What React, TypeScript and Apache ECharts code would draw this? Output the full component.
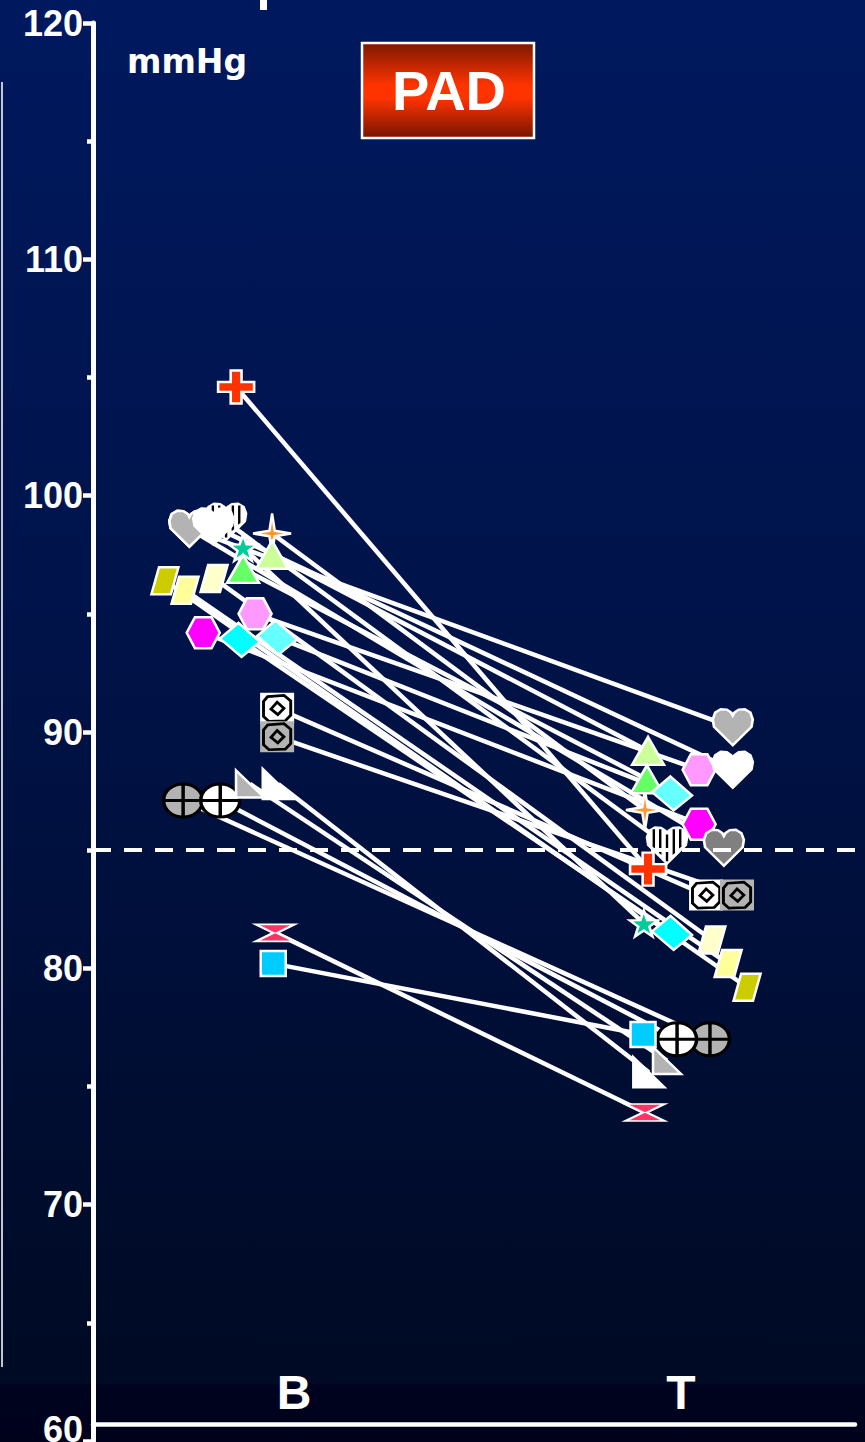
import React, { useEffect, useRef } from 'react';
import * as echarts from 'echarts';

// Two measurement occasions on the x axis
const categories = ['B', 'T'];

// Diastolic pressure (mmHg) per subject at B and at T
const baseline = [104.6, 98.6, 98.7, 98.9, 98.6, 98.4, 97.8, 97.5, 96.9, 96.4, 96.0, 96.5, 95.0, 94.2, 93.9, 94.0, 91.0, 89.8, 87.1, 87.1, 87.8, 87.8, 81.5, 80.2];
const treated = [84.2, 90.2, 88.4, 85.2, 85.1, 86.7, 81.9, 89.2, 88.0, 79.2, 80.2, 81.2, 88.4, 86.1, 81.5, 87.4, 83.1, 83.1, 77.0, 77.0, 76.1, 75.6, 73.9, 77.2];

// Horizontal spread of each subject's marker around its category
const baselineJitter = [-0.150, -0.271, -0.209, -0.176, -0.271, -0.057, -0.132, -0.057, -0.132, -0.334, -0.282, -0.207, -0.101, -0.235, -0.140, -0.044, -0.044, -0.044, -0.287, -0.191, -0.114, -0.041, -0.049, -0.054];
const treatedJitter = [-0.085, 0.134, 0.134, -0.036, 0.111, -0.093, -0.096, -0.085, -0.088, 0.171, 0.122, 0.080, 0.047, 0.047, -0.023, -0.023, 0.065, 0.145, 0.075, -0.010, -0.036, -0.083, -0.093, -0.098];

// Reference threshold
const threshold = 85;

// Marker shapes
const HEART = 'path://M50,100 L3,50 L0,30 L6,12 L20,3 L35,4 L46,12 L50,20 L54,12 L65,4 L80,3 L94,12 L100,30 L97,50 Z';
const HEART_STRIPES = 'path://M0,3 L0,3 M100,100 L100,100 M14,8 L20,8 L20,60 L14,55 Z M30,8 L36,8 L36,77 L30,72 Z M47,22 L53,22 L53,94 L47,94 Z M64,8 L70,8 L70,72 L64,77 Z M80,8 L86,8 L86,55 L80,60 Z';
const CROSS = 'path://M35,0 L65,0 L65,35 L100,35 L100,65 L65,65 L65,100 L35,100 L35,65 L0,65 L0,35 L35,35 Z';
const SPARKLE = 'path://M50,0 L57,43 L100,50 L57,57 L50,100 L43,57 L0,50 L43,43 Z';
const STAR = 'path://M50,0 L61.76,33.82 L97.55,34.55 L69.02,56.18 L79.39,90.45 L50,70 L20.61,90.45 L30.98,56.18 L2.45,34.55 L38.24,33.82 Z';
const PARALLELOGRAM = 'path://M28,0 L100,0 L72,100 L0,100 Z';
const HEXAGON = 'path://M25,0 L75,0 L100,50 L75,100 L25,100 L0,50 Z';
const RHOMBUS = 'path://M46,0 L100,56 L54,100 L0,46 Z';
const BOX_RING = 'path://M0,0 L0,0 M100,100 L100,100 M22,12 L70,8 L90,26 L90,72 L74,90 L26,92 L10,76 L10,28 Z M50,30 L70,50 L52,70 L32,52 Z';
const SPHERE = 'path://M0,50 C0,22 22,0 50,0 C78,0 100,22 100,50 C100,78 78,100 50,100 C22,100 0,78 0,50 Z M50,0 L50,100 M0,50 L100,50';
const RIGHT_TRIANGLE = 'path://M0,0 L0,100 L100,100 Z';
const BOWTIE = 'path://M0,0 L100,0 L55,50 L100,100 L0,100 L45,50 Z';

type Layer = { symbol: string; size: number[]; color: string; borderColor?: string; borderWidth?: number };
type Marker = { layers: Layer[] };

const W = '#ffffff';
const edge = (symbol: string, size: number[], color: string): Layer => ({ symbol, size, color, borderColor: W, borderWidth: 2.5 });

// One marker style per subject (same order as the value arrays)
const markers: Marker[] = [
  { layers: [edge(CROSS, [36, 33], '#ff3300')] },
  { layers: [edge(HEART, [40, 36], '#b3b3b3')] },
  { layers: [edge(HEART, [40, 36], '#ffffff')] },
  { layers: [edge(HEART, [40, 36], '#ffffff'), { symbol: HEART_STRIPES, size: [40, 36], color: '#000000' }] },
  { layers: [edge(HEART, [40, 36], '#808080')] },
  { layers: [edge(SPARKLE, [38, 40], '#ff9933')] },
  { layers: [edge(STAR, [28, 26], '#00cc99')] },
  { layers: [edge('triangle', [32, 28], '#ccff99')] },
  { layers: [edge('triangle', [32, 28], '#66ff66')] },
  { layers: [edge(PARALLELOGRAM, [27, 27], '#cccc00')] },
  { layers: [edge(PARALLELOGRAM, [27, 27], '#ffff99')] },
  { layers: [edge(PARALLELOGRAM, [27, 27], '#ffffcc')] },
  { layers: [edge(HEXAGON, [33, 31], '#ff99ff')] },
  { layers: [edge(HEXAGON, [33, 31], '#ff00ff')] },
  { layers: [edge(RHOMBUS, [40, 34], '#00ffff')] },
  { layers: [edge(RHOMBUS, [40, 34], '#66ffff')] },
  { layers: [{ symbol: 'rect', size: [34, 31], color: '#ffffff' }, { symbol: BOX_RING, size: [34, 31], color: 'transparent', borderColor: '#000', borderWidth: 2.8 }] },
  { layers: [{ symbol: 'rect', size: [34, 31], color: '#b3b3b3' }, { symbol: BOX_RING, size: [34, 31], color: 'transparent', borderColor: '#000', borderWidth: 2.8 }] },
  { layers: [{ symbol: SPHERE, size: [39, 33], color: '#b3b3b3', borderColor: '#000', borderWidth: 3.2 }] },
  { layers: [{ symbol: SPHERE, size: [39, 33], color: '#ffffff', borderColor: '#000', borderWidth: 3.2 }] },
  { layers: [edge(RIGHT_TRIANGLE, [28, 27], '#b3b3b3')] },
  { layers: [edge(RIGHT_TRIANGLE, [31, 30], '#ffffff')] },
  { layers: [edge(BOWTIE, [39, 17], '#ff3366')] },
  { layers: [edge('rect', [25, 25], '#00ccff')] },
];

// Stacking order of the markers (later ones sit on top)
const drawOrder = [9, 10, 11, 12, 13, 4, 1, 3, 2, 5, 6, 7, 8, 14, 15, 16, 17, 18, 19, 21, 20, 22, 23, 0];

const FONT = '"Liberation Sans", Arial, sans-serif';

function subjectPoints(i: number) {
  return [
    [1 + baselineJitter[i], baseline[i]],
    [2 + treatedJitter[i], treated[i]],
  ];
}

const tickStyle = { color: '#ffffff', fontSize: 36, fontWeight: 'bold', fontFamily: FONT };

function buildOption(): echarts.EChartsOption {
  const series: any[] = [];

  baseline.forEach((_, i) => {
    const s: any = {
      type: 'line',
      data: subjectPoints(i),
      symbol: 'none',
      silent: true,
      z: 2,
      lineStyle: { color: '#ffffff', width: 4.5 },
    };
    if (i === 0) {
      s.markLine = {
        silent: true,
        symbol: ['none', 'none'],
        label: { show: false },
        lineStyle: { color: '#ffffff', width: 4, type: [18, 13] },
        data: [{ yAxis: threshold }],
      };
    }
    series.push(s);
  });

  drawOrder.forEach((i) => {
    markers[i].layers.forEach((layer) => {
      series.push({
        type: 'scatter',
        data: subjectPoints(i),
        symbol: layer.symbol,
        symbolSize: layer.size,
        silent: true,
        z: 3,
        itemStyle: {
          color: layer.color,
          borderColor: layer.borderColor ?? 'transparent',
          borderWidth: layer.borderWidth ?? 0,
          opacity: 1,
        },
      });
    });
  });

  return {
    animation: false,
    backgroundColor: 'transparent',
    grid: { left: 93, right: 10, top: 23, bottom: 1, containLabel: false, outerBoundsMode: 'none' } as any,
    xAxis: {
      type: 'value',
      min: 0.48,
      max: 2.45,
      offset: -17,
      splitLine: { show: false },
      axisTick: { show: false },
      axisLine: { show: true, onZero: false, lineStyle: { color: '#ffffff', width: 4.5 } },
      axisLabel: {
        inside: true,
        margin: 8,
        customValues: [1, 2],
        color: '#ffffff',
        fontSize: 48,
        fontWeight: 'bold',
        fontFamily: FONT,
        formatter: (v: number) => {
          const k = Math.round(v);
          return Math.abs(v - k) < 1e-6 && k >= 1 && k <= categories.length ? categories[k - 1] : '';
        },
      },
    } as any,
    yAxis: {
      type: 'value',
      min: 60,
      max: 120,
      interval: 10,
      splitLine: { show: false },
      axisLine: { show: true, onZero: false, lineStyle: { color: '#ffffff', width: 5 } },
      axisTick: { show: true, length: 10, lineStyle: { color: '#ffffff', width: 4.5 } },
      minorTick: { show: true, splitNumber: 2, length: 6, lineStyle: { color: '#ffffff', width: 4.5 } },
      axisLabel: {
        ...tickStyle,
        margin: 10,
        // the lowest label sits on the x axis line, so it is lifted a little
        formatter: (v: number) => (v === 60 ? '{low|60}' : String(v)),
        rich: { low: { ...tickStyle, padding: [0, 0, 24, 0] } },
      },
    } as any,
    graphic: [
      { type: 'line', silent: true, shape: { x1: 2, y1: 82, x2: 2, y2: 1367 }, style: { stroke: '#c4c6d2', lineWidth: 2 } },
      { type: 'rect', silent: true, shape: { x: 260, y: 0, width: 7, height: 10 }, style: { fill: '#ffffff' } },
      {
        type: 'text',
        silent: true,
        x: 127,
        y: 61,
        style: { text: 'mmHg', fill: '#ffffff', fontSize: 33, fontWeight: 'bold', fontFamily: '"DejaVu Sans", sans-serif', textAlign: 'left', textVerticalAlign: 'middle' },
      },
      {
        type: 'group',
        silent: true,
        children: [
          {
            type: 'rect',
            shape: { x: 362, y: 43, width: 172, height: 95 },
            style: {
              fill: new echarts.graphic.LinearGradient(0, 0, 0, 1, [
                { offset: 0, color: '#7e1800' },
                { offset: 0.45, color: '#ff3300' },
                { offset: 0.58, color: '#ff3300' },
                { offset: 1, color: '#761400' },
              ]),
              stroke: '#ffffff',
              lineWidth: 2.5,
            },
          },
          {
            type: 'text',
            x: 449,
            y: 90,
            style: { text: 'PAD', fill: '#ffffff', fontSize: 56, fontWeight: 'bold', fontFamily: FONT, textAlign: 'center', textVerticalAlign: 'middle' },
          },
        ],
      },
    ],
    series,
  } as any;
}

export default function App() {
  const ref = useRef<HTMLDivElement>(null);

  useEffect(() => {
    document.body.style.margin = '0';
    const chart = echarts.init(ref.current!, null, { renderer: 'svg' });
    chart.setOption(buildOption());
    return () => chart.dispose();
  }, []);

  return (
    <div
      ref={ref}
      style={{
        position: 'absolute',
        left: 0,
        top: 0,
        width: 865,
        height: 1442,
        background:
          'linear-gradient(to bottom, #00185e 0px, #001654 300px, #00134a 600px, #000f3a 950px, #000c2c 1200px, #000a24 1384px, #00031f 1385px, #00021c 1442px)',
      }}
    />
  );
}
